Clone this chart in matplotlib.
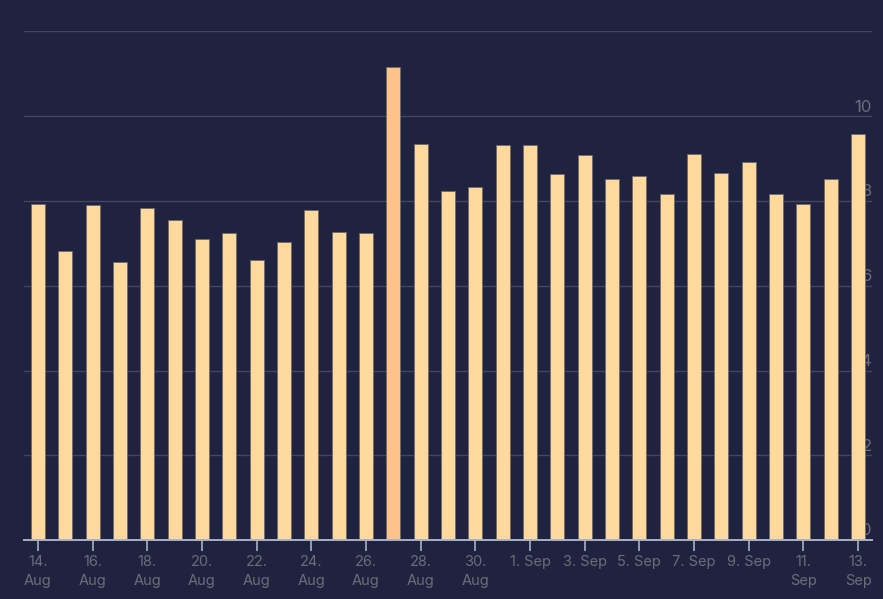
import matplotlib
matplotlib.use("Agg")
from matplotlib import pyplot as plt
from matplotlib.transforms import blended_transform_factory

plt.rcParams['font.family'] = ['Inter', 'DejaVu Sans']

# daily values, 14 Aug .. 13 Sep
days = ["14 Aug", "15 Aug", "16 Aug", "17 Aug", "18 Aug", "19 Aug", "20 Aug",
        "21 Aug", "22 Aug", "23 Aug", "24 Aug", "25 Aug", "26 Aug", "27 Aug",
        "28 Aug", "29 Aug", "30 Aug", "31 Aug", "1 Sep", "2 Sep", "3 Sep",
        "4 Sep", "5 Sep", "6 Sep", "7 Sep", "8 Sep", "9 Sep", "10 Sep",
        "11 Sep", "12 Sep", "13 Sep"]
values = [7.92, 6.83, 7.90, 6.56, 7.83, 7.54, 7.10, 7.24, 6.60, 7.03, 7.78,
          7.27, 7.24, 11.16, 9.34, 8.24, 8.33, 9.31, 9.31, 8.63, 9.08, 8.51,
          8.60, 8.16, 9.10, 8.65, 8.92, 8.16, 7.92, 8.51, 9.57]
highlight = "27 Aug"

tick_labels = ["14.\nAug", "16.\nAug", "18.\nAug", "20.\nAug", "22.\nAug",
               "24.\nAug", "26.\nAug", "28.\nAug", "30.\nAug", "1. Sep",
               "3. Sep", "5. Sep", "7. Sep", "9. Sep", "11.\nSep", "13.\nSep"]
y_ticks = [0, 2, 4, 6, 8, 10]
grid_lines = [0, 2, 4, 6, 8, 10, 12]

bg = "#1f2340"
bar_col = "#ffd99e"
hi_col = "#ffc288"
grid_col = "#44465e"
text_col = "#6c6d78"

fig = plt.figure(figsize=(8.83, 5.99), dpi=100, facecolor=bg)
ax = fig.add_axes([24 / 883, 1 - 540 / 599, 848 / 883, 508.5 / 599])
ax.set_facecolor(bg)

x = list(range(len(days)))
colors = [hi_col if d == highlight else bar_col for d in days]
ax.bar(x, values, width=0.52, color=colors, edgecolor="#6e6a6a",
       linewidth=0.6, zorder=3)

for g in grid_lines[1:]:
    ax.axhline(g, color=grid_col, linewidth=1.0, zorder=1)

# y labels sit inside the plot on the right, behind the bars
trans = blended_transform_factory(ax.transAxes, ax.transData)
for t in y_ticks:
    ax.text(1.0, t + 0.04, str(t), transform=trans, ha="right", va="bottom",
            color=text_col, fontsize=12, zorder=2)

ax.set_xlim(-0.51, len(days) - 0.49)
ax.set_ylim(0, 12)
ax.set_yticks([])
ax.set_xticks(x[::2])
ax.set_xticklabels(tick_labels, color=text_col, fontsize=10.5,
                   linespacing=1.4)
ax.tick_params(axis="x", length=8, width=1.2, color="#a9b0c8", pad=3)

for s in ["top", "left", "right"]:
    ax.spines[s].set_visible(False)
ax.spines["bottom"].set_color("#a9b0c8")
ax.spines["bottom"].set_linewidth(1.4)
ax.spines["bottom"].set_zorder(4)

fig.savefig("out.png", dpi=100, facecolor=bg)
